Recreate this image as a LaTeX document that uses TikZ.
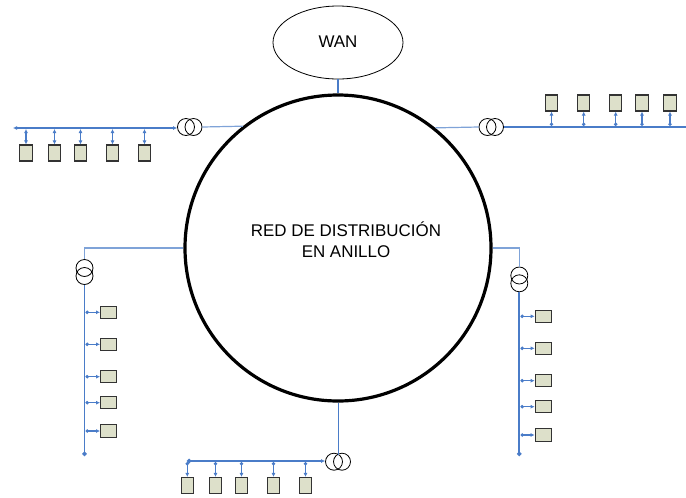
\documentclass[tikz,border=0pt]{standalone}
\usepackage{fontspec}
\setmainfont{Liberation Sans}
\usetikzlibrary{arrows.meta,shapes.geometric}
\definecolor{busblue}{HTML}{4A7CC8}
\definecolor{linkblue}{HTML}{7FA3D8}
\definecolor{devfill}{HTML}{DDE0CA}
\tikzset{
  x=0.75pt,y=-0.75pt,
  ring/.style={circle,draw=black,line width=2.4pt,minimum size=229.5pt,inner sep=0pt,align=center},
  wan/.style={ellipse,draw=black,line width=0.6pt,minimum width=97.5pt,minimum height=54.75pt,inner sep=0pt},
  label/.style={font=\fontsize{12.7}{15.8}\selectfont,align=center,inner sep=0pt},
  trafo/.style={circle,draw=black,line width=0.6pt,minimum size=12.75pt,inner sep=0pt},
  devv/.style={rectangle,draw=black!80,fill=devfill,line width=0.8pt,minimum width=9.2pt,minimum height=12pt,inner sep=0pt},
  devh/.style={rectangle,draw=black!80,fill=devfill,line width=0.8pt,minimum width=12.2pt,minimum height=9.2pt,inner sep=0pt},
  bus/.style={draw=busblue,line width=1.3pt},
  busend/.style={-{Latex[length=3pt,width=3pt]}},
  stub/.style={draw=busblue,line width=0.8pt,{Circle[length=2.6pt]}-{Latex[length=3pt,width=3pt]}},
  feed/.style={draw=linkblue,line width=0.9pt},
}
\begin{document}
\begin{tikzpicture}
\useasboundingbox (0,0) rectangle (686,497);
% ring and WAN
\node[ring] (ring) at (338,248) {};
\node[wan] (wan) at (338,42.5) {};
\node[label] (wantext) at (338,42) {WAN};
\node[label] (ringtext) at (346,240) {RED DE DISTRIBUCIÓN\\EN ANILLO};
\draw[draw=busblue,line width=2pt] (wan.south) -- (ring.north);
% top left
\node[trafo] (tlA) at (186,127) {};
\node[trafo] (tlB) at (193.5,127) {};
\coordinate (tlEnd) at (13,128);
\draw[feed] (tlB.east) -- (ring.128.3);
\draw[bus,{Latex[length=3pt,width=3pt]}-{Latex[length=3pt,width=3pt]}] (tlEnd) -- (tlA.west |- tlEnd);
\foreach \i/\x in {1/26,2/54.5,3/80.5,4/112.5,5/144.5}{
  \node[devv] (tl\i) at (\x,153) {};
  \coordinate (tlb\i) at (\x,129);
  \draw[draw=busblue,line width=0.8pt,{Latex[length=3pt,width=3pt]}-{Latex[length=3pt,width=3pt]}] (tlb\i) -- (tl\i.north);
}
% top right
\node[trafo] (trA) at (487.5,127) {};
\node[trafo] (trB) at (495,127) {};
\coordinate (trEnd) at (686,127);
\draw[feed] (trA.west) -- (ring.51.7);
\draw[bus] (trB.east) -- (trEnd);
\foreach \i/\x in {1/551.5,2/583.7,3/615.7,4/642,5/670}{
  \node[devv] (tr\i) at (\x,103) {};
  \coordinate (trb\i) at (\x,126);
  \draw[stub] (trb\i) -- (tr\i.south);
}
% left
\node[trafo] (lA) at (84.5,268) {};
\node[trafo] (lB) at (84.5,276) {};
\coordinate (lEnd) at (84.5,456);
\coordinate (lCorner) at (84.5,248);
\draw[feed] (ring.west) -- (lCorner) -- (lA.north);
\draw[bus,-{Circle[length=3.2pt]}] (lB.south) -- (lEnd);
\foreach \i/\y in {1/312.3,2/344.3,3/376.7,4/402.7,5/431}{
  \node[devh] (l\i) at (108.7,\y) {};
  \coordinate (lb\i) at (85.5,\y);
  \draw[stub] (lb\i) -- (l\i.west);
}
% right
\node[trafo] (rA) at (519.3,275.5) {};
\node[trafo] (rB) at (519.3,283.3) {};
\coordinate (rEnd) at (519.3,456);
\coordinate (rCorner) at (519.3,248);
\draw[feed] (ring.east) -- (rCorner) -- (rA.north);
\draw[bus,-{Circle[length=3.2pt]}] (rB.south) -- (rEnd);
\foreach \i/\y in {1/316.3,2/348.3,3/380.7,4/406.7,5/435}{
  \node[devh] (r\i) at (543.3,\y) {};
  \coordinate (rb\i) at (520.5,\y);
  \draw[stub] (rb\i) -- (r\i.west);
}
% bottom
\node[trafo] (bA) at (334,461.7) {};
\node[trafo] (bB) at (342,461.7) {};
\coordinate (bEnd) at (187,461);
\draw[feed,draw=busblue,line width=0.7pt] (ring.south) -- (338,455);
\draw[bus,{Circle[length=3.2pt]}-{Latex[length=3pt,width=3pt]}] (bEnd) -- (bA.west |- bEnd);
\foreach \i/\x in {1/187.3,2/215.5,3/241.5,4/273.5,5/305.5}{
  \node[devv] (b\i) at (\x,485.5) {};
  \coordinate (bb\i) at (\x,462);
  \draw[stub] (bb\i) -- (b\i.north);
}
\end{tikzpicture}
\end{document}
